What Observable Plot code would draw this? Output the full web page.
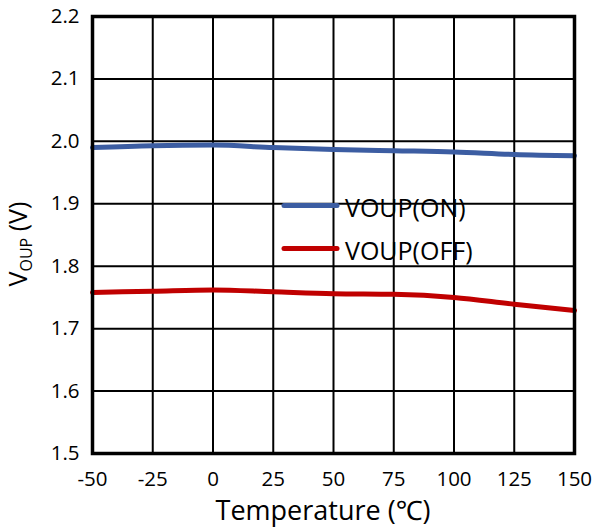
<!DOCTYPE html>
<html>
<head>
<meta charset="utf-8">
<script src="https://cdn.jsdelivr.net/npm/d3@7"></script>
<script src="https://cdn.jsdelivr.net/npm/@observablehq/plot@0.6"></script>
<style>
  body { margin: 0; background: #fff; }
  #chart { position: relative; width: 595px; height: 529px; }
</style>
</head>
<body>
<div id="chart"></div>
<script>
const temps = [-50, -25, 0, 25, 50, 75, 100, 125, 150];
const voupOn = [1.990, 1.993, 1.994, 1.990, 1.987, 1.985, 1.983, 1.979, 1.977];
const voupOff = [1.758, 1.760, 1.762, 1.759, 1.756, 1.755, 1.750, 1.739, 1.729];
const xTicks = [-50, -25, 0, 25, 50, 75, 100, 125, 150];
const yTicks = [1.5, 1.6, 1.7, 1.8, 1.9, 2.0, 2.1, 2.2];
const seriesNames = ["VOUP(ON)", "VOUP(OFF)"];
const seriesColors = ["#3C5DA2", "#C00000"];

const rows = [];
temps.forEach((t, i) => {
  rows.push({t, v: voupOn[i], s: seriesNames[0]});
  rows.push({t, v: voupOff[i], s: seriesNames[1]});
});

const font = "'Open Sans', 'Noto Sans', sans-serif";

const plot = Plot.plot({
  width: 595,
  height: 529,
  marginLeft: 92,
  marginRight: 21,
  marginTop: 16,
  marginBottom: 76,
  style: {fontFamily: font, fontSize: "20.5px", color: "#000", background: "#fff"},
  x: {domain: [-50, 150], label: null},
  y: {domain: [1.5, 2.2], label: null},
  color: {domain: seriesNames, range: seriesColors},
  marks: [
    Plot.ruleX(xTicks, {stroke: "#000", strokeWidth: 2}),
    Plot.ruleY(yTicks, {stroke: "#000", strokeWidth: 2}),
    Plot.line(rows, {x: "t", y: "v", z: "s", stroke: "s", strokeWidth: 5, curve: "monotone-x"}),
    Plot.frame({stroke: "#000", strokeWidth: 3.5}),
    Plot.axisX({ticks: xTicks, tickSize: 0, tickPadding: 18, label: null, tickFormat: d => String(d)}),
    Plot.axisY({ticks: yTicks, tickSize: 0, tickPadding: 13, label: null, tickFormat: d3.format(".1f")})
  ]
});

document.getElementById("chart").appendChild(plot);

const svg = d3.select(plot);
// X axis title
svg.append("text")
  .attr("x", 323).attr("y", 520)
  .attr("text-anchor", "middle")
  .style("font-family", font).style("font-size", "27px").attr("fill", "#000")
  .text("Temperature (℃)");

// Y axis title with subscript
const yl = svg.append("text")
  .attr("transform", "translate(27,244) rotate(-90)")
  .attr("text-anchor", "middle")
  .style("font-family", font).style("font-size", "25px").attr("fill", "#000");
yl.append("tspan").text("V");
yl.append("tspan").attr("dy", 5).style("font-size", "16px").text("OUP");
yl.append("tspan").attr("dy", -5).text(" (V)");

// Legend
const lg = svg.append("g");
seriesNames.forEach((name, i) => {
  const y = 205.5 + i * 43;
  lg.append("line").attr("x1", 284).attr("x2", 337).attr("y1", y).attr("y2", y)
    .attr("stroke", seriesColors[i]).attr("stroke-width", 5).attr("stroke-linecap", "round");
  lg.append("text").attr("x", 345).attr("y", y + 11)
    .attr("text-anchor", "start")
    .style("font-family", font).style("font-size", "25px").attr("fill", "#000")
    .text(name);
});
</script>
</body>
</html>
